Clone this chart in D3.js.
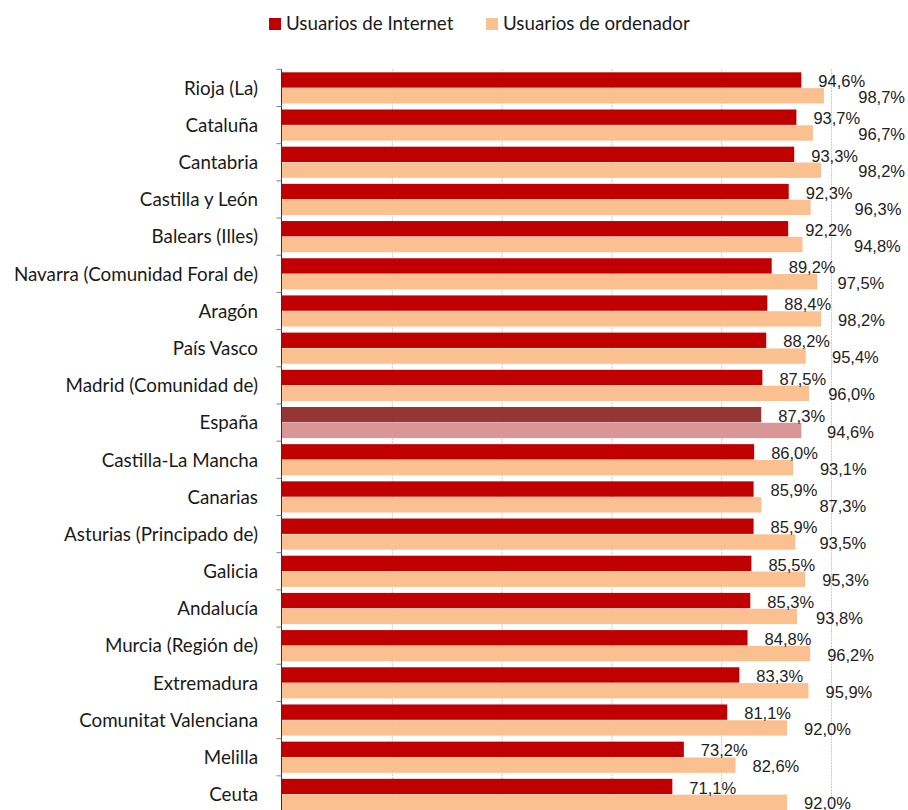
<!DOCTYPE html>
<html>
<head>
<meta charset="utf-8">
<script src="https://cdn.jsdelivr.net/npm/d3@7"></script>
<style>
	body { margin: 0; background: #fff; }
	.cat-label { font-family: Lato, sans-serif; font-size: 18.8px; fill: #1a1a1a; }
	.legend-text { font-family: Lato, sans-serif; font-size: 18.8px; fill: #1a1a1a; }
	.value-label { font-family: "Liberation Sans", Arial, sans-serif; font-size: 16.5px; fill: #222; }
</style>
</head>
<body>
<div id="chart"></div>
<script>
///////////////////////////////////////////////////////////////////////////////
//// Data /////////////////////////////////////////////////////////////////////
///////////////////////////////////////////////////////////////////////////////
const regions = [
	"Rioja (La)", "Cataluña", "Cantabria", "Castilla y León", "Balears (Illes)",
	"Navarra (Comunidad Foral de)", "Aragón", "País Vasco", "Madrid (Comunidad de)",
	"España", "Castilla-La Mancha", "Canarias", "Asturias (Principado de)", "Galicia",
	"Andalucía", "Murcia (Región de)", "Extremadura", "Comunitat Valenciana",
	"Melilla", "Ceuta"
];

const internetUsers = [94.6, 93.7, 93.3, 92.3, 92.2, 89.2, 88.4, 88.2, 87.5, 87.3,
	86.0, 85.9, 85.9, 85.5, 85.3, 84.8, 83.3, 81.1, 73.2, 71.1];

const computerUsers = [98.7, 96.7, 98.2, 96.3, 94.8, 97.5, 98.2, 95.4, 96.0, 94.6,
	93.1, 87.3, 93.5, 95.3, 93.8, 96.2, 95.9, 92.0, 82.6, 92.0];

const seriesNames = ["Usuarios de Internet", "Usuarios de ordenador"];
const gridTicks = [20, 40, 60, 80, 100];
const highlighted = "España";

///////////////////////////////////////////////////////////////////////////////
//// Set Up ///////////////////////////////////////////////////////////////////
///////////////////////////////////////////////////////////////////////////////
const width = 908,
			height = 810,
			plot = {left: 282, right: 831, top: 69.3, bottom: 813};

const colors = {
	internet: "#c00000",
	ordenador: "#fac090",
	internetHi: "#943634",
	ordenadorHi: "#d99694"
};

const fmt = d3.formatLocale({decimal: ",", thousands: ".", grouping: [3], currency: ["", "€"]})
	.format(".1f");

const rows = regions.map((r, i) => ({
	region: r,
	internet: internetUsers[i],
	ordenador: computerUsers[i]
}));

// Scales
const x = d3.scaleLinear()
		.domain([0, 100])
		.range([plot.left, plot.right]);

const y = d3.scaleBand()
		.domain(regions)
		.range([plot.top, plot.bottom])
		.paddingInner(0.162)
		.paddingOuter(0.081);

const ySub = d3.scaleBand()
		.domain(["internet", "ordenador"])
		.range([0, y.bandwidth()])
		.paddingInner(0.03);

const svg = d3.select("#chart")
	.append("svg")
		.attr("width", width)
		.attr("height", height);

///////////////////////////////////////////////////////////////////////////////
//// Grid /////////////////////////////////////////////////////////////////////
///////////////////////////////////////////////////////////////////////////////
svg.append("g")
	.selectAll("line")
	.data(gridTicks)
	.enter()
	.append("line")
		.attr("x1", d => x(d) + 0.5)
		.attr("x2", d => x(d) + 0.5)
		.attr("y1", plot.top)
		.attr("y2", height)
		.attr("stroke", "#c8c8c8")
		.attr("stroke-dasharray", "2,1");

///////////////////////////////////////////////////////////////////////////////
//// Bars /////////////////////////////////////////////////////////////////////
///////////////////////////////////////////////////////////////////////////////
const rowG = svg.append("g")
	.selectAll("g")
	.data(rows)
	.enter()
	.append("g")
		.attr("transform", d => `translate(0, ${y(d.region)})`);

["internet", "ordenador"].forEach(key => {
	rowG.append("rect")
		.attr("x", x(0))
		.attr("y", ySub(key))
		.attr("width", d => x(d[key]) - x(0))
		.attr("height", ySub.bandwidth())
		.attr("fill", d => d.region === highlighted ? colors[key + "Hi"] : colors[key]);
});

// Value labels
const internetLabel = rowG.append("text")
	.attr("class", "value-label")
	.attr("x", d => x(d.internet) + 17)
	.attr("y", ySub("internet") + ySub.bandwidth() - 0.5)
	.text(d => fmt(d.internet) + "%");

internetLabel.each(function(d) {
	d.internetLabelEnd = x(d.internet) + 17 + this.getComputedTextLength();
});

// The computer label is pushed right when it would run into the internet one,
// but kept inside the picture
rowG.append("text")
	.attr("class", "value-label")
	.attr("y", ySub("ordenador") + ySub.bandwidth() - 0.5)
	.text(d => fmt(d.ordenador) + "%")
	.attr("x", function(d) {
		const len = this.getComputedTextLength();
		return Math.min(Math.max(x(d.ordenador) + 17, d.internetLabelEnd + 2), width - len - 3);
	});

///////////////////////////////////////////////////////////////////////////////
//// Category axis ////////////////////////////////////////////////////////////
///////////////////////////////////////////////////////////////////////////////
const axisG = svg.append("g")
	.attr("transform", `translate(${plot.left - 0.5}, 0)`);

axisG.append("line")
	.attr("y1", plot.top)
	.attr("y2", height)
	.attr("stroke", "#333");

axisG.selectAll(".tick-line")
	.data(regions)
	.enter()
	.append("line")
		.attr("class", "tick-line")
		.attr("x1", -5)
		.attr("x2", 0)
		.attr("y1", d => y(d) - y.step() * y.paddingInner() / 2)
		.attr("y2", d => y(d) - y.step() * y.paddingInner() / 2)
		.attr("stroke", "#808080");

axisG.selectAll(".cat-label")
	.data(regions)
	.enter()
	.append("text")
		.attr("class", "cat-label")
		.attr("x", -23.5)
		.attr("y", d => y(d) + y.bandwidth() / 2)
		.attr("dy", "0.36em")
		.attr("text-anchor", "end")
		.text(d => d);

///////////////////////////////////////////////////////////////////////////////
//// Legend ///////////////////////////////////////////////////////////////////
///////////////////////////////////////////////////////////////////////////////
const legendG = svg.append("g")
	.attr("transform", "translate(269, 0)");

const legend = legendG.selectAll(".legend")
	.data(seriesNames)
	.enter()
	.append("g")
		.attr("class", "legend")
		.attr("transform", (d, i) => `translate(${i * 217}, 0)`);

legend.append("rect")
	.attr("y", 18)
	.attr("width", 12)
	.attr("height", 12)
	.attr("fill", (d, i) => i ? colors.ordenador : colors.internet);

legend.append("text")
	.attr("class", "legend-text")
	.attr("x", 17)
	.attr("y", 30)
	.text(d => d);
</script>
</body>
</html>
